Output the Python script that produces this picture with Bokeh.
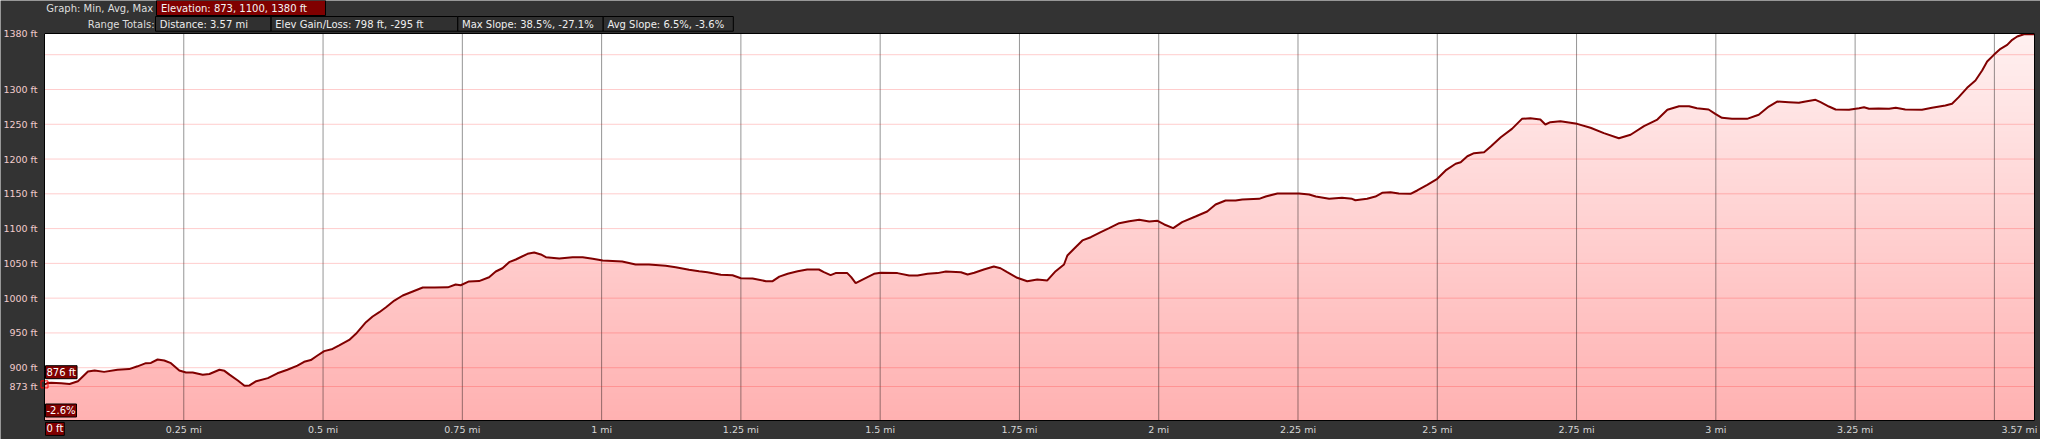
import numpy as np
from bokeh.plotting import figure
from bokeh.models import Range1d, FixedTicker, BoxAnnotation, Label, LinearAxis
from bokeh.embed import file_html
from bokeh.resources import INLINE

# ---------------- data ----------------
dist_mi = [
    0.000, 0.006, 0.012, 0.030, 0.045, 0.060, 0.078, 0.090, 0.107, 0.131, 0.152, 0.167,
    0.182, 0.191, 0.203, 0.215, 0.227, 0.242, 0.254, 0.266, 0.284, 0.296, 0.314, 0.323,
    0.332, 0.347, 0.359, 0.368, 0.380, 0.401, 0.418, 0.436, 0.454, 0.466, 0.478, 0.490,
    0.502, 0.517, 0.529, 0.547, 0.559, 0.577,
    0.589, 0.601, 0.613, 0.628, 0.643, 0.661, 0.679, 0.700, 0.724, 0.738, 0.747, 0.762,
    0.780, 0.798, 0.810, 0.822, 0.834, 0.846, 0.867, 0.879, 0.891, 0.900, 0.924, 0.948,
    0.966, 0.984, 1.002, 1.037, 1.061, 1.085, 1.115, 1.133, 1.157, 1.175,
    1.190, 1.214, 1.235, 1.250, 1.271, 1.295, 1.307, 1.319, 1.334, 1.352, 1.369, 1.390,
    1.399, 1.411, 1.420, 1.441, 1.448, 1.456, 1.471, 1.489, 1.501, 1.531, 1.552, 1.567,
    1.585, 1.603, 1.618, 1.645, 1.657, 1.669, 1.686, 1.704, 1.716, 1.728, 1.746, 1.764,
    1.782, 1.800, 1.815, 1.830, 1.836, 1.848, 1.863, 1.878, 1.896, 1.911, 1.929, 1.947,
    1.965, 1.983, 1.998, 2.010, 2.026, 2.042, 2.066, 2.087, 2.102, 2.120, 2.138, 2.150,
    2.180, 2.192, 2.213, 2.252, 2.270, 2.282, 2.306, 2.329, 2.347, 2.353, 2.374, 2.389,
    2.401, 2.416, 2.431, 2.452, 2.464, 2.482, 2.500, 2.515, 2.533, 2.542, 2.554, 2.566,
    2.584, 2.596, 2.614, 2.634, 2.652, 2.667, 2.685, 2.694, 2.703, 2.721, 2.751, 2.775,
    2.799, 2.826, 2.847, 2.871, 2.895, 2.913, 2.934, 2.952, 2.966, 2.987, 2.999,
    3.011, 3.029, 3.056, 3.077, 3.095, 3.110, 3.131, 3.149, 3.161, 3.179, 3.188, 3.203,
    3.215, 3.239, 3.257, 3.266, 3.275, 3.292, 3.311, 3.323, 3.340, 3.370, 3.388, 3.412,
    3.424, 3.436, 3.451, 3.466, 3.478, 3.487, 3.499, 3.511, 3.523, 3.532, 3.541, 3.553,
    3.572,
]
elev_ft = [
    876.0, 878.0, 878.5, 877.5, 876.5, 880.6, 894.6, 896.0, 894.0, 897.0, 898.0, 902.0,
    906.5, 906.8, 911.8, 910.4, 906.5, 896.0, 893.0, 893.0, 889.8, 891.0, 897.0, 895.5,
    890.0, 881.6, 874.0, 874.5, 880.6, 885.0, 892.0, 897.0, 903.0, 908.5, 911.0, 917.5,
    923.8, 927.0, 932.0, 940.0, 948.7, 965.4,
    973.6, 979.8, 987.0, 996.6, 1003.8, 1009.6, 1015.3, 1015.3, 1015.5, 1019.6, 1018.6, 1024.0,
    1024.5, 1030.0, 1038.3, 1043.0, 1051.7, 1055.6, 1063.8, 1065.6, 1062.8, 1058.9, 1057.0, 1058.9,
    1058.9, 1056.6, 1054.0, 1052.7, 1048.4, 1048.4, 1046.5, 1044.5, 1040.8, 1038.8,
    1037.3, 1033.5, 1033.0, 1028.7, 1028.3, 1024.4, 1024.4, 1031.0, 1035.0, 1038.8, 1041.2, 1041.2,
    1037.3, 1033.0, 1036.0, 1036.0, 1030.2, 1021.5, 1027.8, 1035.0, 1036.5, 1036.0, 1032.6, 1032.6,
    1035.0, 1036.0, 1038.3, 1037.3, 1034.0, 1036.5, 1041.2, 1045.5, 1043.0, 1037.3, 1029.3, 1024.4,
    1026.8, 1025.5, 1038.8, 1048.4, 1061.3, 1071.0, 1083.0, 1087.6, 1094.8, 1100.6, 1107.8, 1110.6,
    1112.6, 1110.2, 1111.2, 1105.9, 1100.6, 1109.2, 1117.4, 1124.6, 1134.6, 1140.4, 1140.4, 1141.8,
    1142.8, 1146.1, 1150.5, 1150.5, 1149.0, 1146.1, 1142.8, 1144.3, 1142.8, 1140.7, 1142.8, 1146.1,
    1151.5, 1152.3, 1150.5, 1150.0, 1154.8, 1163.0, 1171.6, 1183.6, 1193.2, 1195.5, 1204.0, 1208.4,
    1209.8, 1218.0, 1231.4, 1243.4, 1257.8, 1258.7, 1256.8, 1249.7, 1253.0, 1254.4, 1250.6, 1245.0,
    1237.2, 1230.0, 1234.9, 1247.3, 1256.8, 1270.8, 1276.0, 1276.0, 1273.0, 1271.2, 1265.0,
    1259.3, 1257.8, 1257.8, 1263.6, 1275.5, 1282.7, 1281.7, 1280.8, 1282.7, 1285.1, 1281.7, 1275.5,
    1271.2, 1270.8, 1273.0, 1274.5, 1272.2, 1272.6, 1272.2, 1273.6, 1271.2, 1270.8, 1273.6, 1276.9,
    1279.4, 1289.0, 1302.4, 1312.9, 1327.3, 1340.2, 1349.8, 1358.5, 1364.2, 1371.4, 1376.2, 1379.5,
    1379.5,
]

y_tick_values = [873, 900, 950, 1000, 1050, 1100, 1150, 1200, 1250, 1300, 1380]
y_tick_labels = ["873 ft", "900 ft", "950 ft", "1000 ft", "1050 ft", "1100 ft", "1150 ft",
                 "1200 ft", "1250 ft", "1300 ft", "1380 ft"]
y_grid_values = [873, 900, 950, 1000, 1050, 1100, 1150, 1200, 1250, 1300, 1350]

x_tick_values = [0.25, 0.5, 0.75, 1.0, 1.25, 1.5, 1.75, 2.0, 2.25, 2.5, 2.75, 3.0, 3.25]
x_tick_labels = ["0.25 mi", "0.5 mi", "0.75 mi", "1 mi", "1.25 mi", "1.5 mi", "1.75 mi",
                 "2 mi", "2.25 mi", "2.5 mi", "2.75 mi", "3 mi", "3.25 mi"]
x_grid_values = [0.25, 0.5, 0.75, 1.0, 1.25, 1.5, 1.75, 2.0, 2.25, 2.5, 2.75, 3.0, 3.25, 3.5]
x_end_label = "3.57 mi"

header_row1_caption = "Graph: Min, Avg, Max"
header_row1_box = "Elevation: 873, 1100, 1380 ft"
header_row2_caption = "Range Totals:"
header_row2_boxes = ["Distance: 3.57 mi", "Elev Gain/Loss: 798 ft, -295 ft",
                     "Max Slope: 38.5%, -27.1%", "Avg Slope: 6.5%, -3.6%"]
cursor_elev_label = "876 ft"
cursor_slope_label = "-2.6%"
cursor_dist_label = "0 ft"
cursor_dist = 0.0
cursor_elev = 876

# ---------------- layout (canvas pixels) ----------------
W, H = 2040, 439
PL, PR, PT, PB = 44, 2034, 33, 420          # plot box inside the canvas
X0, X1 = 0.0, 3.572                          # plotted distance range
Y0, Y1 = 824.1, 1380.5                       # plotted elevation range
kx = (PR - PL) / (X1 - X0)
ky = (PB - PT) / (Y1 - Y0)

p = figure(width=W, height=H,
           x_range=Range1d(X0 - PL / kx, X1 + (W - PR) / kx),
           y_range=Range1d(Y0 - (H - PB) / ky, Y1 + PT / ky),
           x_axis_type=None, y_axis_type=None,
           output_backend="svg", toolbar_location=None, min_border=0)
p.background_fill_color = "#333333"
p.border_fill_color = "#333333"
p.outline_line_color = None

# vertical gradient of the fill (screen based) drawn as an image under a white mask
FH = PB - PT
rows = np.arange(FH)
frac = (rows + 0.5) / FH            # 0 at bottom, 1 at top
alpha = 0.50 - 0.41 * frac
g = np.clip(255 - alpha * 155, 0, 255).astype(np.uint8)
img = np.empty((FH, 2), dtype=np.uint32)
view = img.view(dtype=np.uint8).reshape((FH, 2, 4))
view[:, :, 0] = 255
view[:, :, 1] = g[:, None]
view[:, :, 2] = g[:, None]
view[:, :, 3] = 255
p.image_rgba(image=[img], x=X0, y=Y0, dw=X1 - X0, dh=Y1 - Y0, level="image")
p.varea(x=dist_mi, y1=elev_ft, y2=Y1, fill_color="white", level="image")

# grid lines (limited to the plot box)
p.segment(x0=x_grid_values, y0=Y0, x1=x_grid_values, y1=Y1,
          line_color="black", line_alpha=0.42, line_width=1, level="underlay")
p.segment(x0=X0, y0=y_grid_values, x1=X1, y1=y_grid_values,
          line_color="red", line_alpha=0.2, line_width=1, level="underlay")

# profile line
p.line(dist_mi, elev_ft, line_color="#800000", line_width=2)

# plot border
p.add_layout(BoxAnnotation(left=X0, right=X1, bottom=Y0, top=Y1, fill_color=None,
                           fill_alpha=0, line_color="black", line_alpha=1.0,
                           line_width=1, line_dash="solid"))
p.scatter([cursor_dist], [cursor_elev], marker="square", size=7, fill_color=None,
          line_color="red", line_width=1)

# axes fixed at the plot box edges
FONT = "DejaVu Sans"
xax = LinearAxis(fixed_location=Y0, ticker=FixedTicker(ticks=x_tick_values),
                 major_label_overrides=dict(zip(x_tick_values, x_tick_labels)))
yax = LinearAxis(fixed_location=X0, ticker=FixedTicker(ticks=y_tick_values),
                 major_label_overrides=dict(zip(y_tick_values, y_tick_labels)))
for ax in (xax, yax):
    ax.axis_line_color = None
    ax.major_tick_line_color = None
    ax.minor_tick_line_color = None
    ax.major_tick_out = 0
    ax.major_tick_in = 0
    ax.major_label_text_font = FONT
    ax.major_label_text_font_size = "9.5px"
xax.major_label_text_color = "#d6d6d6"
xax.major_label_standoff = 3
yax.major_label_text_color = "#f2cccc"
yax.major_label_standoff = 7
p.add_layout(xax, "below")
p.add_layout(yax, "left")


def sx(rx):
    return rx - 8


def sy(ry):
    return H - ry


def box(x1, x2, y1, y2, fill):
    p.add_layout(BoxAnnotation(left=sx(x1), right=sx(x2), top=sy(y1), bottom=sy(y2),
                               left_units="screen", right_units="screen",
                               top_units="screen", bottom_units="screen",
                               fill_color=fill, fill_alpha=1.0, line_color="black",
                               line_alpha=1.0, line_width=1, line_dash="solid"))


def text(x, ry, s, align="left", color="#e6e6e6", size="10px", units_x="screen",
         bg=None, x_offset=0):
    kw = {}
    if bg is not None:
        kw = dict(background_fill_color=bg, background_fill_alpha=1.0,
                  border_line_color="black", border_line_alpha=1.0, padding=1)
    p.add_layout(Label(x=x, y=sy(ry), x_units=units_x, y_units="screen", text=s,
                       x_offset=x_offset, text_align=align, text_baseline="middle",
                       text_color=color, text_font=FONT, text_font_size=size, **kw))


# header row 1
text(sx(160.7), 7.5, header_row1_caption, align="right", color="#dedede")
box(164, 333, 0, 15, "#800000")
text(sx(168.4), 7.5, header_row1_box, color="#f4f4f4")
# header row 2
text(sx(162), 24.3, header_row2_caption, align="right", color="#dedede")
edges = [163, 278.6, 465.3, 610.7, 740.8]
for i, s in enumerate(header_row2_boxes):
    box(edges[i], edges[i + 1], 16, 30.7, "#303030")
    text(sx(edges[i] + 4.2), 24.3, s, color="#eeeeee")

# cursor read-outs at the start of the profile
text(cursor_dist, 371.7, cursor_elev_label, color="white", bg="#800000", units_x="data", x_offset=1)
text(cursor_dist, 410.0, cursor_slope_label, color="white", bg="#800000", units_x="data", x_offset=1)
text(cursor_dist, 428.4, cursor_dist_label, color="white", bg="#800000", units_x="data", x_offset=1)

# end-of-range distance label
text(X1, 429, x_end_label, align="right", color="#d6d6d6", size="9.5px", units_x="data",
     x_offset=3)

open("out.html", "w").write(file_html(p, INLINE))
